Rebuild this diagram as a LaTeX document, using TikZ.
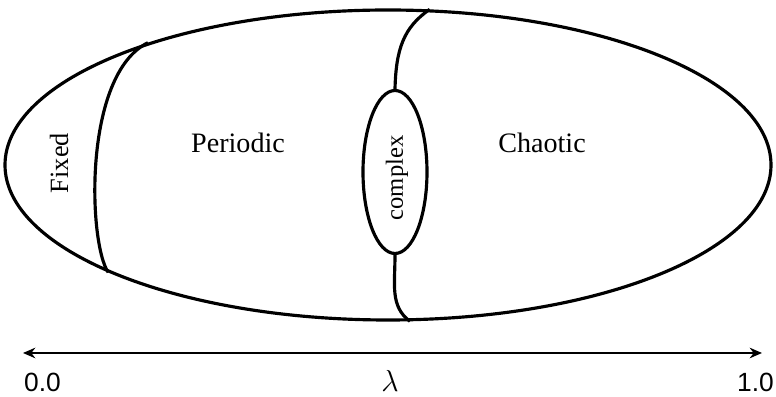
\documentclass[tikz,border=0pt]{standalone}
\usepackage{fontspec}
\setmainfont{Liberation Serif}
\setsansfont{Liberation Sans}
\usetikzlibrary{shapes.geometric, arrows.meta}

\begin{document}
\begin{tikzpicture}[
    region/.style={draw, ellipse, line width=1.8pt, inner sep=0pt},
    border/.style={line width=1.8pt},
    word/.style={font=\fontsize{16}{18}\selectfont},
    num/.style={font=\sffamily\fontsize{15}{17}\selectfont}]
    \useasboundingbox (0,0) rectangle (15.52,7.94);
    % the whole parameter space and the small complex region
    \node[region, minimum width=15.32cm, minimum height=6.2cm] (space) at (7.76,4.64) {};
    \node[region, minimum width=1.28cm, minimum height=3.26cm] (cplx) at (7.90,4.50) {};
    % borders between regimes
    \draw[border] (space.153.6) .. controls +(-1.30,-0.64) and +(-0.40,0.60) .. (space.201.9);
    \draw[border] (space.75.5) .. controls +(-0.52,-0.36) and +(0.02,0.8) .. (cplx.north);
    \draw[border] (cplx.south) .. controls +(0,-0.6) and +(-0.4,0.3) .. (space.278.1);
    \node[word, font=\fontsize{15}{17}\selectfont, rotate=90] (fixed) at (1.18,4.68) {Fixed};
    \node[word] (periodic) at (4.76,5.08) {Periodic};
    \node[word, font=\fontsize{14}{16}\selectfont, rotate=90] (complex) at (7.94,4.38) {complex};
    \node[word] (chaotic) at (10.84,5.08) {Chaotic};
    % lambda axis
    \coordinate (lo) at (0.46,0.88);
    \coordinate (hi) at (15.24,0.88);
    \draw[border, line width=1.4pt, {Stealth[length=7pt,width=6pt]}-{Stealth[length=7pt,width=6pt]}] (lo) -- (hi);
    \node[num, anchor=north west] (zero) at (0.36,0.60) {0.0};
    \node[num, anchor=north east] (one) at (15.60,0.60) {1.0};
    \node[word] (lambda) at (7.80,0.32) {$\lambda$};
\end{tikzpicture}
\end{document}
